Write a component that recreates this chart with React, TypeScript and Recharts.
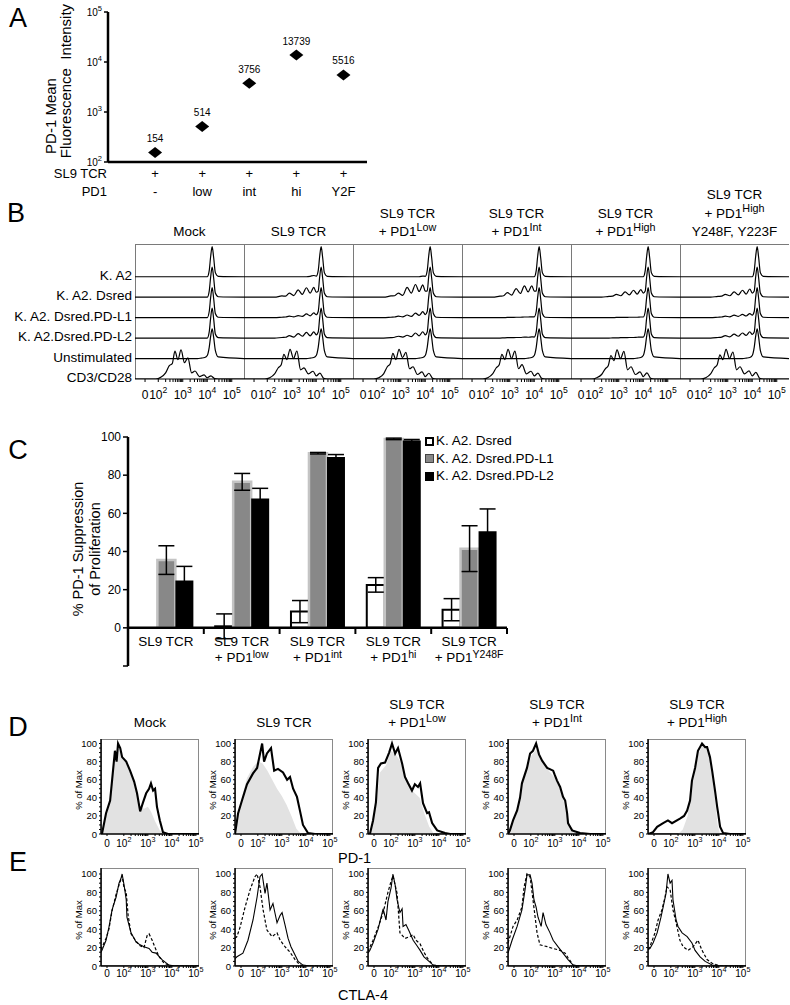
import React from 'react';
import {
  ScatterChart, Scatter, LineChart, Line, ComposedChart, Area, BarChart, Bar, ErrorBar,
  XAxis, YAxis, ReferenceLine, LabelList,
} from 'recharts';

const FONT = '"Liberation Sans", Arial, Helvetica, sans-serif';

// ---------- A: PD-1 mean fluorescence intensity
const A_PD1 = ['-', 'low', 'int', 'hi', 'Y2F'];
const A_MFI = [154, 514, 3756, 13739, 5516];
const A_TICKS = [100, 1000, 10000, 100000];

// ---------- B: offset CFSE histograms (height in row units)
const B_ROW_LABELS = ['K. A2', 'K. A2. Dsred', 'K. A2. Dsred.PD-L1', 'K. A2.Dsred.PD-L2', 'Unstimulated', 'CD3/CD28'];
const B_HEADERS = [
  [['Mock']],
  [['SL9 TCR']],
  [['SL9 TCR'], ['+ PD1', 'Low']],
  [['SL9 TCR'], ['+ PD1', 'Int']],
  [['SL9 TCR'], ['+ PD1', 'High']],
  [['SL9 TCR'], ['+ PD1', 'High'], ['Y248F, Y223F']],
];
const B_WAVE_X = [1.05, 2.3, 2.6, 2.75, 2.9, 3.08, 3.26, 3.43, 3.6, 3.75, 3.9, 4.0];
const B_PEAK_X = [4.08, 4.14, 4.2, 4.26, 4.33, 4.45, 5.5];
const B_PEAK = [0.3, 1.0, 1.47, 0.95, 0.2, 0.02, 0];
const B_PEAK_UNSTIM = [0.55, 1.1, 1.45, 1.05, 0.4, 0.08, 0];
const B_FLAT = [0, 0, 0, 0, 0, 0, 0, 0, 0, 0, 0, 0];
const B_UNSTIM_BASE = [0, 0, 0, 0, 0, 0, 0, 0, 0, 0.02, 0.05, 0.15];
const B_WAVES = [
  [B_FLAT, B_FLAT, B_FLAT, B_FLAT, B_UNSTIM_BASE],
  [
    [0, 0, 0, 0, 0, 0, 0, 0, 0, 0.02, 0.06, 0.03],
    [0, 0, 0.06, 0.05, 0.2, 0.08, 0.36, 0.14, 0.46, 0.2, 0.48, 0.24],
    [0, 0, 0.02, 0.03, 0.07, 0.04, 0.1, 0.06, 0.18, 0.09, 0.23, 0.14],
    [0, 0, 0.03, 0.04, 0.12, 0.05, 0.22, 0.09, 0.28, 0.11, 0.3, 0.16],
    B_UNSTIM_BASE,
  ],
  [
    [0, 0, 0, 0, 0, 0, 0, 0, 0, 0, 0.03, 0.02],
    [0, 0, 0.06, 0.07, 0.2, 0.09, 0.48, 0.2, 0.62, 0.28, 0.6, 0.3],
    [0, 0, 0.02, 0.03, 0.07, 0.04, 0.13, 0.06, 0.22, 0.11, 0.29, 0.15],
    [0, 0, 0.02, 0.04, 0.09, 0.05, 0.14, 0.07, 0.25, 0.11, 0.31, 0.16],
    B_UNSTIM_BASE,
  ],
  [
    B_FLAT,
    [0, 0, 0.05, 0.07, 0.22, 0.1, 0.42, 0.18, 0.55, 0.26, 0.56, 0.3],
    [0, 0, 0, 0, 0.01, 0.01, 0.02, 0.02, 0.03, 0.03, 0.04, 0.04],
    [0, 0, 0, 0.01, 0.02, 0.02, 0.03, 0.03, 0.05, 0.04, 0.06, 0.05],
    B_UNSTIM_BASE,
  ],
  [
    B_FLAT,
    [0, 0, 0.04, 0.05, 0.14, 0.07, 0.26, 0.11, 0.34, 0.15, 0.37, 0.2],
    [0, 0, 0, 0, 0.01, 0.01, 0.01, 0.02, 0.02, 0.02, 0.03, 0.03],
    [0, 0, 0, 0.01, 0.01, 0.02, 0.02, 0.03, 0.03, 0.04, 0.05, 0.05],
    B_UNSTIM_BASE,
  ],
  [
    B_FLAT,
    [0, 0, 0.04, 0.05, 0.14, 0.07, 0.26, 0.11, 0.34, 0.15, 0.4, 0.2],
    [0, 0, 0.02, 0.03, 0.07, 0.04, 0.12, 0.06, 0.16, 0.08, 0.2, 0.12],
    [0, 0, 0.03, 0.05, 0.12, 0.06, 0.19, 0.09, 0.25, 0.13, 0.31, 0.18],
    B_UNSTIM_BASE,
  ],
];
const B_PROLIF_X = [1.05, 1.9, 2.1, 2.3, 2.45, 2.57, 2.68, 2.8, 2.93, 3.07, 3.21, 3.36, 3.5, 3.68, 3.87, 4.0, 4.15, 4.3, 4.45, 5.5];
const B_PROLIF = [
  [0, 0, 0.08, 0.3, 0.65, 0.75, 1.36, 0.95, 1.42, 0.8, 1.03, 0.3, 0.39, 0.12, 0.2, 0.06, 0.15, 0.02, 0, 0],
  [0, 0, 0.06, 0.25, 0.55, 0.7, 1.2, 0.95, 1.45, 1.0, 1.37, 0.45, 0.54, 0.25, 0.38, 0.15, 0.29, 0.04, 0, 0],
  [0, 0, 0.06, 0.25, 0.6, 0.75, 1.25, 0.95, 1.45, 1.05, 1.3, 0.5, 0.6, 0.22, 0.35, 0.12, 0.28, 0.03, 0, 0],
  [0, 0, 0.06, 0.25, 0.55, 0.7, 1.2, 0.95, 1.45, 1.0, 1.36, 0.5, 0.7, 0.25, 0.38, 0.15, 0.29, 0.04, 0, 0],
  [0, 0, 0.06, 0.22, 0.5, 0.65, 1.15, 0.9, 1.42, 1.0, 1.35, 0.45, 0.6, 0.22, 0.35, 0.12, 0.3, 0.04, 0, 0],
  [0, 0, 0.06, 0.25, 0.55, 0.7, 1.18, 0.95, 1.45, 1.0, 1.32, 0.45, 0.6, 0.25, 0.4, 0.15, 0.32, 0.04, 0, 0],
];

// ---------- C: % suppression of proliferation
const C_GROUPS = ['SL9 TCR', 'SL9 TCR + PD1 low', 'SL9 TCR + PD1 int', 'SL9 TCR + PD1 hi', 'SL9 TCR + PD1 Y248F'];
const C_SUP = ['', 'low', 'int', 'hi', 'Y248F'];
const C_DSRED = [null, 0.8, 8.5, 22.5, 9.5];
const C_DSRED_ERR = [null, 6.5, 5.8, 3.8, 5.8];
const C_PDL1 = [35.5, 76.5, 91.5, 99, 41.5];
const C_PDL1_ERR = [7.5, 4.4, 0.4, 0.4, 12];
const C_PDL2 = [24.8, 67.8, 89.5, 98.2, 50.6];
const C_PDL2_ERR = [7.4, 5.3, 1.3, 0.5, 11.7];
const C_LEGEND = ['K. A2. Dsred', 'K. A2. Dsred.PD-L1', 'K. A2. Dsred.PD-L2'];

// ---------- D / E: % of max histograms (x in decades)
const DE_HEADERS = [
  [['Mock']],
  [['SL9 TCR']],
  [['SL9 TCR'], ['+ PD1', 'Low']],
  [['SL9 TCR'], ['+ PD1', 'Int']],
  [['SL9 TCR'], ['+ PD1', 'High']],
];
const D_LINE_X = [
  [1.05, 1.09, 1.26, 1.43, 1.55, 1.63, 1.7, 1.76, 1.85, 1.93, 2.1, 2.26, 2.43, 2.55, 2.68, 2.8, 2.93, 3.05, 3.13, 3.22, 3.3, 3.38, 3.5, 3.63, 3.84, 5.13],
  [1.05, 1.18, 1.34, 1.55, 1.8, 1.97, 2.18, 2.26, 2.38, 2.55, 2.68, 2.84, 3.05, 3.22, 3.34, 3.47, 3.63, 3.76, 3.88, 4.09, 4.38, 5.13],
  [1.05, 1.13, 1.26, 1.38, 1.47, 1.59, 1.76, 1.93, 2.05, 2.18, 2.3, 2.47, 2.59, 2.72, 2.88, 3.0, 3.13, 3.22, 3.34, 3.51, 3.59, 3.72, 3.93, 4.26, 4.47, 5.13],
  [1.05, 1.13, 1.26, 1.43, 1.55, 1.63, 1.84, 1.97, 2.09, 2.22, 2.34, 2.47, 2.68, 2.93, 3.0, 3.09, 3.22, 3.34, 3.43, 3.51, 3.55, 3.72, 4.05, 4.47, 5.13],
  [1.05, 1.26, 1.43, 1.68, 1.88, 2.05, 2.38, 2.55, 2.68, 2.8, 2.88, 3.01, 3.13, 3.3, 3.43, 3.51, 3.63, 3.72, 3.84, 3.93, 3.97, 4.05, 4.18, 4.47, 5.13],
];
const D_LINE_Y = [
  [0, 0, 23, 37, 70, 92, 80, 100, 95, 85, 80, 70, 58, 45, 25, 35, 45, 50, 56, 48, 50, 30, 15, 2, 0, 0],
  [0, 23, 37, 55, 67, 73, 100, 80, 89, 95, 70, 72, 68, 60, 63, 50, 41, 25, 10, 1, 0, 0],
  [0, 0, 15, 35, 73, 78, 79, 90, 100, 89, 95, 78, 63, 56, 48, 55, 52, 56, 34, 23, 24, 12, 4, 1, 0, 0],
  [0, 4, 15, 26, 40, 56, 73, 89, 92, 100, 88, 81, 73, 70, 65, 59, 52, 41, 37, 23, 12, 4, 1, 0, 0],
  [0, 2, 8, 12, 15, 12, 17, 20, 26, 37, 59, 73, 92, 100, 96, 96, 85, 70, 48, 30, 23, 8, 1, 0, 0],
];
const D_FILL_X = [
  [1.05, 1.26, 1.43, 1.55, 1.63, 1.76, 1.93, 2.1, 2.26, 2.43, 2.55, 2.68, 2.84, 3.0, 3.13, 3.3, 3.5, 3.7],
  [1.05, 1.2, 1.35, 1.55, 1.8, 2.0, 2.2, 2.4, 2.6, 2.8, 3.0, 3.2, 3.4, 3.6, 3.8],
  [1.1, 1.26, 1.4, 1.55, 1.8, 2.0, 2.2, 2.4, 2.6, 2.8, 3.0, 3.2, 3.4, 3.6, 3.8],
  [1.05, 1.25, 1.45, 1.65, 1.85, 2.05, 2.25, 2.5, 2.75, 3.0, 3.2, 3.35, 3.5, 3.7, 3.9],
  [2.3, 2.5, 2.7, 2.85, 3.0, 3.15, 3.3, 3.45, 3.6, 3.75, 3.85, 3.95, 4.05],
];
const D_FILL_Y = [
  [0, 20, 35, 65, 88, 96, 86, 78, 68, 55, 44, 30, 28, 30, 25, 14, 4, 0],
  [0, 24, 42, 62, 74, 80, 78, 70, 60, 50, 42, 32, 20, 6, 0],
  [0, 14, 34, 68, 76, 92, 88, 80, 62, 50, 45, 40, 22, 8, 0],
  [0, 12, 26, 55, 74, 88, 94, 80, 70, 62, 50, 38, 20, 5, 0],
  [0, 5, 20, 50, 72, 88, 98, 95, 85, 60, 35, 10, 0],
];
const E_SOLID_X = [
  [1.05, 1.09, 1.26, 1.38, 1.51, 1.68, 1.8, 1.88, 1.93, 2.01, 2.1, 2.13, 2.3, 2.51, 2.68, 2.84, 3.05, 3.18, 3.34, 3.59, 3.88, 4.13, 5.13],
  [1.05, 1.13, 1.38, 1.59, 1.8, 1.97, 2.09, 2.18, 2.3, 2.38, 2.51, 2.63, 2.8, 2.93, 3.01, 3.13, 3.26, 3.38, 3.55, 3.68, 3.88, 4.18, 5.13],
  [1.05, 1.13, 1.26, 1.47, 1.68, 1.8, 1.88, 2.01, 2.09, 2.18, 2.26, 2.38, 2.47, 2.51, 2.63, 2.76, 2.93, 3.09, 3.22, 3.38, 3.51, 3.76, 4.05, 5.13],
  [1.05, 1.22, 1.43, 1.63, 1.76, 1.84, 1.97, 2.05, 2.13, 2.22, 2.3, 2.43, 2.51, 2.63, 2.8, 2.93, 3.13, 3.34, 3.55, 3.76, 4.05, 5.13],
  [1.05, 1.13, 1.26, 1.43, 1.59, 1.68, 1.8, 1.88, 1.97, 2.05, 2.09, 2.22, 2.3, 2.47, 2.68, 2.88, 3.01, 3.22, 3.43, 3.72, 4.05, 5.13],
];
const E_SOLID_Y = [
  [15, 17, 28, 42, 61, 75, 90, 95, 100, 88, 72, 53, 36, 26, 23, 21, 19, 15, 14, 7, 1, 0, 0],
  [8, 10, 14, 28, 50, 75, 97, 100, 79, 90, 61, 68, 47, 55, 58, 45, 30, 21, 12, 5, 1, 0, 0],
  [14, 17, 25, 40, 62, 50, 70, 85, 100, 88, 72, 58, 62, 43, 45, 38, 28, 22, 17, 10, 7, 1, 0, 0],
  [14, 28, 43, 61, 83, 99, 99, 90, 72, 64, 53, 43, 58, 45, 36, 28, 21, 14, 7, 1, 0, 0],
  [18, 19, 25, 36, 53, 64, 79, 100, 90, 93, 72, 50, 43, 36, 32, 25, 17, 10, 5, 1, 0, 0],
];
const E_DASH_X = [
  [1.05, 1.26, 1.38, 1.51, 1.68, 1.8, 1.93, 2.01, 2.1, 2.18, 2.3, 2.51, 2.68, 2.84, 2.97, 3.05, 3.18, 3.3, 3.47, 3.68, 3.97, 5.13],
  [1.05, 1.13, 1.26, 1.47, 1.68, 1.88, 1.97, 2.09, 2.22, 2.38, 2.59, 2.8, 2.93, 3.13, 3.34, 3.55, 3.76, 3.97, 5.13],
  [1.05, 1.26, 1.47, 1.68, 1.88, 2.01, 2.09, 2.18, 2.26, 2.38, 2.59, 2.8, 2.93, 3.05, 3.22, 3.38, 3.51, 3.76, 4.05, 5.13],
  [1.05, 1.26, 1.43, 1.63, 1.72, 1.84, 1.97, 2.09, 2.26, 2.38, 2.68, 2.93, 3.22, 3.43, 3.55, 3.76, 4.05, 5.13],
  [1.05, 1.13, 1.34, 1.47, 1.63, 1.76, 1.84, 1.97, 2.09, 2.22, 2.38, 2.51, 2.72, 2.93, 3.13, 3.3, 3.51, 3.72, 4.05, 5.13],
];
const E_DASH_Y = [
  [18, 30, 40, 60, 78, 88, 98, 85, 80, 55, 35, 27, 22, 20, 33, 35, 28, 20, 10, 3, 0, 0],
  [30, 32, 42, 64, 83, 97, 100, 86, 61, 39, 32, 36, 28, 21, 15, 7, 1, 0, 0],
  [16, 28, 42, 58, 80, 92, 98, 88, 79, 36, 30, 32, 34, 28, 24, 15, 9, 1, 0, 0],
  [25, 43, 50, 64, 86, 100, 97, 72, 36, 23, 21, 19, 17, 14, 9, 1, 0, 0],
  [18, 21, 36, 50, 61, 75, 86, 83, 61, 47, 28, 21, 17, 21, 28, 17, 7, 3, 0, 0],
];

// ---------- layout
const B_LEFTS = [135, 244, 353, 462, 571, 680];
const B_W = 109;
const B_TOP = 244;
const B_H = 135;
const B_YMAX = 6.6;
const BOX_LEFTS = [101, 235, 368, 508, 648];
const BOX_W = 98;
const FB_YW = 26;
const D_TOP = 739;
const D_H = 95;
const E_TOP = 868;
const E_H = 98;
const C_PLOT_W = 379;

function minorTicks(from: number, to: number) {
  const t: number[] = [];
  for (let d = from; d < to; d++) for (let k = 2; k <= 9; k++) t.push(d + Math.log10(k));
  return t;
}
const B_TICKS = [1.46, 2, 3, 4, 5, ...minorTicks(2, 5)];
const FB_TICKS = [1.3, 2, 3, 4, 5, ...minorTicks(2, 5)];
const FB_YTICKS = Array.from({ length: 21 }, (_, i) => i * 5);

function merge(series: { key: string; xs: number[]; ys: (number | null)[] }[]) {
  const map = new Map<number, any>();
  series.forEach((s) => s.xs.forEach((x, i) => {
    const row = map.get(x) ?? { x };
    row[s.key] = s.ys[i];
    map.set(x, row);
  }));
  return [...map.values()].sort((a, b) => a.x - b.x);
}

const Sup = ({ children }: any) => (
  <span style={{ fontSize: '0.8em', position: 'relative', top: '-0.5em' }}>{children}</span>
);

function T({ x, y, size = 13.5, anchor = 'middle', rotate = false, children }: any) {
  const tx = anchor === 'middle' ? '-50%' : anchor === 'end' ? '-100%' : '0';
  return (
    <div style={{
      position: 'absolute', left: x, top: y, fontSize: size, lineHeight: 1, whiteSpace: 'nowrap',
      transform: `translate(${tx}, -50%)${rotate ? ' rotate(-90deg)' : ''}`,
    }}>{children}</div>
  );
}

const logTick = (zero: number, fs: number, dy: number) => (p: any) => {
  const v = p.payload.value;
  if (Math.abs(v - zero) < 1e-6) {
    return <text x={p.x} y={p.y + dy} textAnchor="middle" dominantBaseline="central" fontSize={fs} fontFamily={FONT} fill="#000">0</text>;
  }
  if (Number.isInteger(v)) {
    return (
      <text x={p.x} y={p.y + dy} textAnchor="middle" dominantBaseline="central" fontSize={fs} fontFamily={FONT} fill="#000">
        10<tspan dy={-fs * 0.4} fontSize={fs * 0.72}>{v}</tspan>
      </text>
    );
  }
  return <g />;
};

const pctTick = (p: any) => (p.payload.value % 20 === 0
  ? <text x={p.x} y={p.y} textAnchor="end" dominantBaseline="central" fontSize={9.5} fontFamily={FONT} fill="#000">{p.payload.value}</text>
  : <g />);

// ---------- Panel A
const A_DATA = A_MFI.map((mfi, i) => ({ pos: i + 1, mfi }));

const Diamond = (p: any) => (
  <polygon points={`${p.cx},${p.cy - 5.5} ${p.cx + 7},${p.cy} ${p.cx},${p.cy + 5.5} ${p.cx - 7},${p.cy}`} fill="#000" />
);

const aPowTick = (p: any) => (
  <text x={p.x} y={p.y} textAnchor="end" dominantBaseline="central" fontSize={10} fontFamily={FONT} fill="#000">
    10<tspan dy={-4} fontSize={7.5}>{Math.round(Math.log10(p.payload.value))}</tspan>
  </text>
);

const aXTick = (p: any) => (
  <g fontFamily={FONT} fill="#000">
    <text x={p.x} y={p.y + 11} textAnchor="middle" dominantBaseline="central" fontSize={13}>+</text>
    <text x={p.x} y={p.y + 29} textAnchor="middle" dominantBaseline="central" fontSize={13}>{A_PD1[p.payload.value - 1]}</text>
  </g>
);

function PanelA() {
  return (
    <>
      <T x={18} y={18} size={27}>A</T>
      <T x={50} y={116} size={15} rotate>PD-1 Mean</T>
      <T x={65} y={81} size={15} rotate>{'Fluorescence\u00a0\u00a0Intensity'}</T>
      <T x={107} y={173} size={13} anchor="end">SL9 TCR</T>
      <T x={107} y={191} size={13} anchor="end">PD1</T>
      <div style={{ position: 'absolute', left: 0, top: 0 }}>
        <ScatterChart width={377} height={202} margin={{ top: 12, right: 10, bottom: 0, left: 0 }}>
          <XAxis type="number" dataKey="pos" domain={[0, 5.5]} ticks={[1, 2, 3, 4, 5]} interval={0} height={40}
            tickSize={0} tickMargin={0} tickLine={false} axisLine={{ stroke: '#000', strokeWidth: 2.5 }} tick={aXTick} />
          <YAxis type="number" dataKey="mfi" scale="log" domain={[100, 100000]} ticks={A_TICKS} interval={0} width={108}
            allowDataOverflow tickSize={4} tickMargin={2} axisLine={{ stroke: '#000', strokeWidth: 2.5 }}
            tickLine={{ stroke: '#000', strokeWidth: 1.5 }} tick={aPowTick} />
          <Scatter data={A_DATA} shape={Diamond} isAnimationActive={false}>
            <LabelList dataKey="mfi" position="top" offset={6} style={{ fontSize: 10, fill: '#000', fontFamily: FONT }} />
          </Scatter>
        </ScatterChart>
      </div>
    </>
  );
}

// ---------- Panel B
function bRows(ci: number) {
  const series: { key: string; xs: number[]; ys: number[] }[] = [];
  for (let r = 0; r < 5; r++) {
    const peak = r === 4 ? B_PEAK_UNSTIM : B_PEAK;
    series.push({
      key: `r${r}`,
      xs: [...B_WAVE_X, ...B_PEAK_X],
      ys: [...B_WAVES[ci][r], ...peak].map((v) => v + (5 - r)),
    });
  }
  series.push({ key: 'r5', xs: B_PROLIF_X, ys: B_PROLIF[ci] });
  return merge(series);
}

function PanelB() {
  return (
    <>
      <T x={16} y={213} size={27}>B</T>
      {B_HEADERS.map((lines, ci) => lines.map((ln, li) => (
        <T key={`h${ci}${li}`} x={B_LEFTS[ci] + B_W / 2} y={232 - 18.5 * (lines.length - 1 - li)}>
          {ln[0]}{ln[1] ? <Sup>{ln[1]}</Sup> : null}
        </T>
      )))}
      {B_ROW_LABELS.map((lab, r) => (
        <T key={lab} x={132} y={B_TOP + B_H * (1 - (5 - r) / B_YMAX) - 1} anchor="end">{lab}</T>
      ))}
      {B_LEFTS.map((left, ci) => (
        <React.Fragment key={ci}>
          <div style={{
            position: 'absolute', left, top: B_TOP, width: B_W, height: B_H,
            borderLeft: '1px solid #7a7a7a', borderTop: '1px solid #7a7a7a', boxSizing: 'border-box',
          }} />
          <div style={{ position: 'absolute', left, top: B_TOP }}>
            <LineChart width={B_W} height={B_H + 26} data={bRows(ci)} margin={{ top: 0, right: 0, bottom: 0, left: 0 }}>
              <XAxis type="number" dataKey="x" domain={[1.05, 5.5]} ticks={B_TICKS} interval={0} allowDataOverflow
                height={26} tickSize={3} tickMargin={0} axisLine={{ stroke: '#000' }} tickLine={{ stroke: '#000' }}
                tick={logTick(1.46, 12, 13)} />
              <YAxis hide type="number" domain={[0, B_YMAX]} allowDataOverflow />
              {[0, 1, 2, 3, 4, 5].map((r) => (
                <Line key={r} type="monotone" dataKey={`r${r}`} stroke="#000" strokeWidth={1.2} dot={false}
                  connectNulls isAnimationActive={false} />
              ))}
            </LineChart>
          </div>
        </React.Fragment>
      ))}
    </>
  );
}

// ---------- Panel C
const C_DATA = C_GROUPS.map((g, i) => ({
  group: g,
  dsred: C_DSRED[i], dsredErr: C_DSRED_ERR[i],
  pdl1: C_PDL1[i], pdl1Err: C_PDL1_ERR[i],
  pdl2: C_PDL2[i], pdl2Err: C_PDL2_ERR[i],
}));

const cXTick = (p: any) => {
  const i = C_GROUPS.indexOf(p.payload.value);
  const half = C_PLOT_W / C_GROUPS.length / 2;
  return (
    <g fontFamily={FONT} fill="#000">
      <text x={p.x} y={p.y - 25} textAnchor="middle" dominantBaseline="central" fontSize={13.5}>SL9 TCR</text>
      {C_SUP[i] ? (
        <text x={p.x} y={p.y - 9} textAnchor="middle" dominantBaseline="central" fontSize={13.5}>
          + PD1<tspan dy={-3.5} fontSize={10.5}>{C_SUP[i]}</tspan>
        </text>
      ) : null}
      <line x1={p.x + half} x2={p.x + half} y1={p.y - 38} y2={p.y - 32} stroke="#000" strokeWidth={2} />
    </g>
  );
};

const C_FILLS = ['#ffffff', '#888888', '#000000'];

function PanelC() {
  return (
    <>
      <T x={18} y={450} size={27}>C</T>
      <T x={78} y={549} size={14.5} rotate>% PD-1 Suppression</T>
      <T x={95} y={549} size={14.5} rotate>of Proliferation</T>
      <div style={{ position: 'absolute', left: 0, top: 427 }}>
        <BarChart width={128 + C_PLOT_W + 10} height={10 + 229 + 20} data={C_DATA}
          margin={{ top: 10, right: 10, bottom: 0, left: 0 }} barCategoryGap="15%" barGap={0}>
          <XAxis dataKey="group" height={20} tickSize={0} tickMargin={0} axisLine={false} tickLine={false}
            interval={0} tick={cXTick} />
          <YAxis type="number" domain={[-20, 100]} ticks={[-20, 0, 20, 40, 60, 80, 100]} interval={0} width={128}
            tickSize={5} tickMargin={2} axisLine={{ stroke: '#000', strokeWidth: 2.5 }}
            tickLine={{ stroke: '#000', strokeWidth: 1.5 }}
            tick={{ fontSize: 12, fill: '#000', fontFamily: FONT }}
            tickFormatter={(v: number) => (v < 0 ? '' : String(v))} />
          <Bar dataKey="dsred" fill={C_FILLS[0]} stroke="#000" strokeWidth={2} isAnimationActive={false}>
            <ErrorBar dataKey="dsredErr" width={8} stroke="#000" strokeWidth={1.5} direction="y" />
          </Bar>
          <Bar dataKey="pdl1" fill={C_FILLS[1]} stroke="#c4c4c4" strokeWidth={2.5} isAnimationActive={false}>
            <ErrorBar dataKey="pdl1Err" width={8} stroke="#000" strokeWidth={1.5} direction="y" />
          </Bar>
          <Bar dataKey="pdl2" fill={C_FILLS[2]} isAnimationActive={false}>
            <ErrorBar dataKey="pdl2Err" width={8} stroke="#000" strokeWidth={1.5} direction="y" />
          </Bar>
          <ReferenceLine y={0} stroke="#000" strokeWidth={2.5} />
        </BarChart>
      </div>
      {C_LEGEND.map((name, i) => (
        <React.Fragment key={name}>
          <div style={{
            position: 'absolute', left: 425, top: 441 + i * 17.5 - 4.5, width: 9, height: 9, boxSizing: 'border-box',
            background: C_FILLS[i], border: i === 0 ? '2.5px solid #000' : i === 1 ? '1.5px solid #444' : '1px solid #000',
          }} />
          <T x={436} y={441 + i * 17.5} anchor="start">{name}</T>
        </React.Fragment>
      ))}
    </>
  );
}

// ---------- Panels D & E
function FlowBox({ left, top, plotH, yMax, rows, kind, tickDy }: any) {
  return (
    <>
      <div style={{
        position: 'absolute', left, top, width: BOX_W, height: plotH,
        border: '1px solid #8a8a8a', boxSizing: 'border-box',
      }} />
      <T x={left - 22} y={top + plotH / 2 + 3} size={9.5} rotate>% of Max</T>
      <div style={{ position: 'absolute', left: left - FB_YW, top: top - 2 }}>
        <ComposedChart width={FB_YW + BOX_W + 8} height={plotH + 20} data={rows}
          margin={{ top: 2, right: 8, bottom: 0, left: 0 }}>
          <XAxis type="number" dataKey="x" domain={[1.05, 5.13]} ticks={FB_TICKS} interval={0} allowDataOverflow
            height={18} tickSize={2} tickMargin={0} axisLine={{ stroke: '#000', strokeWidth: 1.5 }}
            tickLine={{ stroke: '#000' }} tick={logTick(1.3, 10, tickDy)} />
          <YAxis type="number" domain={[0, yMax]} ticks={FB_YTICKS} interval={0} allowDataOverflow width={FB_YW}
            tickSize={2} tickMargin={2} axisLine={{ stroke: '#000', strokeWidth: 1.5 }}
            tickLine={{ stroke: '#000' }} tick={pctTick} />
          {kind === 'D' ? (
            <Area type="linear" dataKey="fill" fill="#e2e2e2" fillOpacity={1} stroke="none" connectNulls
              dot={false} activeDot={false} isAnimationActive={false} />
          ) : null}
          {kind === 'D' ? (
            <Line type="linear" dataKey="line" stroke="#000" strokeWidth={2.1} dot={false} connectNulls isAnimationActive={false} />
          ) : null}
          {kind === 'E' ? (
            <Line type="linear" dataKey="dash" stroke="#000" strokeWidth={1.2} strokeDasharray="3 2" dot={false}
              connectNulls isAnimationActive={false} />
          ) : null}
          {kind === 'E' ? (
            <Line type="linear" dataKey="solid" stroke="#000" strokeWidth={1.1} dot={false} connectNulls isAnimationActive={false} />
          ) : null}
        </ComposedChart>
      </div>
    </>
  );
}

function PanelsDE() {
  return (
    <>
      <T x={18} y={727} size={27}>D</T>
      <T x={18} y={862} size={27}>E</T>
      {DE_HEADERS.map((lines, bi) => lines.map((ln, li) => (
        <T key={`d${bi}${li}`} x={BOX_LEFTS[bi] + BOX_W / 2} y={723 - 18 * (lines.length - 1 - li)}>
          {ln[0]}{ln[1] ? <Sup>{ln[1]}</Sup> : null}
        </T>
      )))}
      {BOX_LEFTS.map((left, bi) => (
        <FlowBox key={`D${bi}`} left={left} top={D_TOP} plotH={D_H} yMax={105} kind="D" tickDy={7}
          rows={merge([
            { key: 'fill', xs: D_FILL_X[bi], ys: D_FILL_Y[bi] },
            { key: 'line', xs: D_LINE_X[bi], ys: D_LINE_Y[bi] },
          ])} />
      ))}
      {BOX_LEFTS.map((left, bi) => (
        <FlowBox key={`E${bi}`} left={left} top={E_TOP} plotH={E_H} yMax={106.5} kind="E" tickDy={5}
          rows={merge([
            { key: 'solid', xs: E_SOLID_X[bi], ys: E_SOLID_Y[bi] },
            { key: 'dash', xs: E_DASH_X[bi], ys: E_DASH_Y[bi] },
          ])} />
      ))}
      <T x={338} y={858} size={14.5} anchor="start">PD-1</T>
      <T x={338} y={995} size={14.5} anchor="start">CTLA-4</T>
    </>
  );
}

export default function App() {
  return (
    <div style={{
      position: 'absolute', left: 0, top: 0, width: 790, height: 1005, overflow: 'hidden',
      background: '#fff', color: '#000', fontFamily: FONT,
    }}>
      <PanelA />
      <PanelB />
      <PanelC />
      <PanelsDE />
    </div>
  );
}
